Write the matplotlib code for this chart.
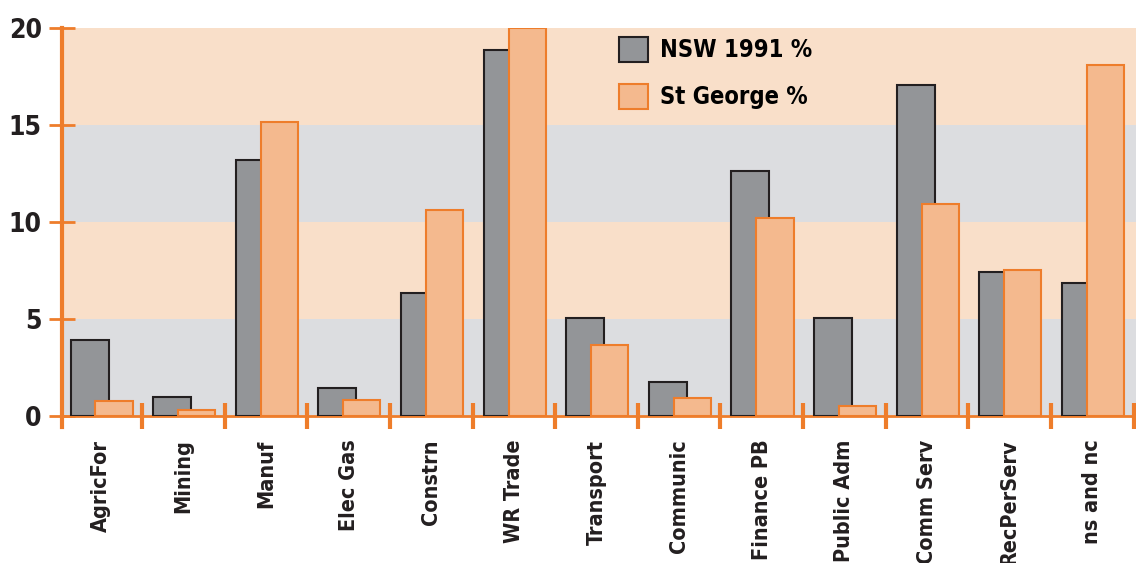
#! /usr/bin/env python3

import matplotlib
matplotlib.use('Agg')
import matplotlib.pyplot as plt
from matplotlib.patches import Patch

categories = ['AgricFor', 'Mining', 'Manuf', 'Elec Gas', 'Constrn', 'WR Trade',
              'Transport', 'Communic', 'Finance PB', 'Public Adm', 'Comm Serv',
              'RecPerServ', 'ns and nc']
nsw_1991 = [3.9, 1.0, 13.2, 1.45, 6.35, 18.85, 5.05, 1.75, 12.65, 5.05, 17.05, 7.4, 6.85]
st_george = [0.75, 0.3, 15.15, 0.8, 10.6, 20.0, 3.65, 0.95, 10.2, 0.5, 10.95, 7.55, 18.1]
yticks = [0, 5, 10, 15, 20]

ORANGE = '#ee7d2b'
DARK = '#231f20'
BAR_GREY = '#939598'
BAR_ORANGE = '#f4b98e'
BAND_PEACH = '#f9dfc9'
BAND_GREY = '#dcdde0'
FONT = ['DejaVu Sans']


def main():
    plt.rcParams['font.family'] = FONT
    plt.rcParams['font.weight'] = 'bold'
    plt.rcParams['font.stretch'] = 'condensed'
    fig = plt.figure(figsize=(11.36, 5.63), dpi=100)
    ax = fig.add_axes([62 / 1136, 147 / 563, 1074 / 1136, 388 / 563])

    # alternating background bands
    for i in range(len(yticks) - 1):
        ax.axhspan(yticks[i], yticks[i + 1], color=BAND_GREY if i % 2 == 0 else BAND_PEACH,
                   zorder=0, lw=0)

    x = range(len(categories))
    ax.bar([i - 0.137 for i in x], nsw_1991, width=0.46, color=BAR_GREY,
           edgecolor=DARK, linewidth=1.5, zorder=2)
    ax.bar([i + 0.16 for i in x], st_george, width=0.45, color=BAR_ORANGE,
           edgecolor=ORANGE, linewidth=1.5, zorder=3)

    ax.set_xlim(-0.47, 12.53)
    ax.set_ylim(0, 20)

    for s in ['top', 'right', 'left']:
        ax.spines[s].set_visible(False)
    ax.spines['bottom'].set_color(ORANGE)
    ax.spines['bottom'].set_linewidth(2)
    ax.spines['bottom'].set_zorder(1)
    # y axis line reaching a bit below zero
    ax.plot([-0.47, -0.47], [-0.55, 20], color=ORANGE, lw=3, clip_on=False, zorder=5)

    ax.set_yticks(yticks)
    ax.set_yticklabels([str(v) for v in yticks], fontsize=19, fontweight='bold',
                       fontstretch='condensed', color=DARK)
    ax.tick_params(axis='y', direction='inout', length=19, width=2, color=ORANGE, pad=5)

    ax.set_xticks(list(x))
    ax.set_xticklabels(categories, rotation=90, fontsize=15.5, fontweight='bold',
                       fontstretch='condensed', color=DARK, va='top', ha='center')
    ax.set_xticks([i + 0.5 for i in x], minor=True)
    ax.tick_params(axis='x', which='major', length=0, pad=17)
    ax.tick_params(axis='x', which='minor', direction='inout', length=19, width=3, color=ORANGE)

    handles = [Patch(facecolor=BAR_GREY, edgecolor=DARK, linewidth=1.5, label='NSW 1991 %'),
               Patch(facecolor=BAR_ORANGE, edgecolor=ORANGE, linewidth=1.5, label='St George %')]
    ax.legend(handles=handles, loc='upper left', bbox_to_anchor=(0.5186, 0.977), frameon=False,
              prop={'family': FONT, 'weight': 'bold', 'size': 17, 'stretch': 'condensed'},
              handlelength=1.23, handleheight=1.23, handletextpad=0.5, labelspacing=0.93,
              borderpad=0, borderaxespad=0)

    plt.savefig('out.png', dpi=100)


if __name__ == '__main__':
    main()
